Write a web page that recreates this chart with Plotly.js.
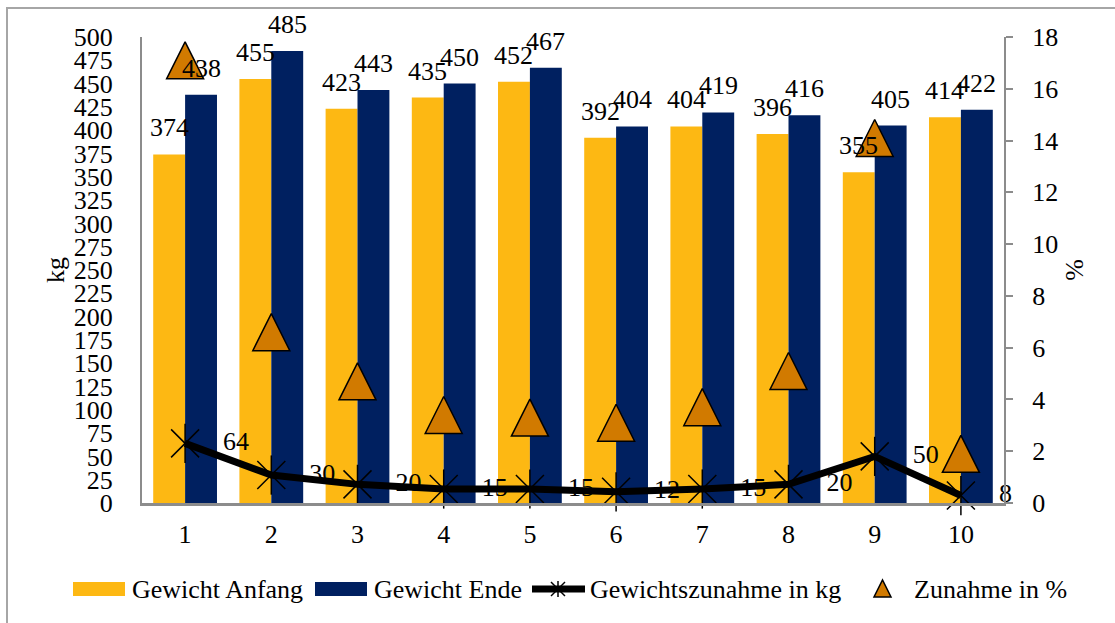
<!DOCTYPE html>
<html>
<head>
<meta charset="utf-8">
<script src="https://cdn.plot.ly/plotly-3.0.1.min.js"></script>
<style>
  html, body { margin: 0; padding: 0; background: #ffffff; }
  #chart { width: 1115px; height: 623px; }
</style>
</head>
<body>
<div id="chart"></div>
<script>
// ---- data ----
const categories = [1, 2, 3, 4, 5, 6, 7, 8, 9, 10];
const gewichtAnfang = [374, 455, 423, 435, 452, 392, 404, 396, 355, 414];
const gewichtEnde = [438, 485, 443, 450, 467, 404, 419, 416, 405, 422];
const zunahmeKg = [64, 30, 20, 15, 15, 12, 15, 20, 50, 8];
const zunahmeProzent = [17.1, 6.6, 4.7, 3.4, 3.3, 3.1, 3.7, 5.1, 14.1, 1.9];
const leftTicks = [0, 25, 50, 75, 100, 125, 150, 175, 200, 225, 250, 275, 300, 325, 350, 375, 400, 425, 450, 475, 500];
const rightTicks = [0, 2, 4, 6, 8, 10, 12, 14, 16, 18];
const seriesNames = ['Gewicht Anfang', 'Gewicht Ende', 'Gewichtszunahme in kg', 'Zunahme in %'];

// ---- styles ----
const FONT = '"Liberation Serif", "Times New Roman", serif';
const FS = 26;
const ORANGE = '#FDB813';
const NAVY = '#002060';
const TRI = '#D17A00';
const GRAY = '#8C8C8C';
const BARGAP = 0.26;
const HALF = (1 - BARGAP) / 4; // offset of each bar centre from category centre

// plot area in pixels (for legend/frame placement in paper coords)
const PL = 142, PR = 1004, PT = 37, PB = 503;
const px = v => (v - PL) / (PR - PL);
const py = v => (PB - v) / (PB - PT);

const traces = [
  {
    type: 'bar', name: seriesNames[0], x: categories, y: gewichtAnfang,
    marker: { color: ORANGE }, hoverinfo: 'y'
  },
  {
    type: 'bar', name: seriesNames[1], x: categories, y: gewichtEnde,
    marker: { color: NAVY }, hoverinfo: 'y'
  },
  {
    type: 'scatter', mode: 'lines+markers+text', name: seriesNames[2],
    x: categories, y: zunahmeKg,
    text: zunahmeKg.map(v => '\u00a0\u00a0\u00a0' + v),
    textposition: 'middle right',
    textfont: { family: FONT, size: FS, color: '#000' },
    line: { color: '#000', width: 7 },
    marker: { symbol: 'x-thin-open', size: 28, color: '#000', line: { color: '#000', width: 1.5 } },
    cliponaxis: false
  },
  {
    type: 'scatter', mode: 'markers', showlegend: false, hoverinfo: 'skip',
    x: categories, y: zunahmeKg,
    marker: { symbol: 'line-ns-open', size: 28, color: '#000', line: { color: '#000', width: 1.5 } },
    cliponaxis: false
  },
  {
    type: 'scatter', mode: 'markers', name: seriesNames[3],
    x: categories, y: zunahmeProzent, yaxis: 'y2',
    marker: { symbol: 'arrow-down', angle: 180, standoff: 18.5, size: 37, color: TRI,
              line: { color: '#000', width: 1.5 } },
    cliponaxis: false
  }
];

const annotations = [];
categories.forEach((c, i) => {
  annotations.push({ x: c - HALF, y: gewichtAnfang[i], xref: 'x', yref: 'y', text: String(gewichtAnfang[i]),
    showarrow: false, yanchor: 'bottom', yshift: 10, font: { family: FONT, size: FS, color: '#000' } });
  annotations.push({ x: c + HALF, y: gewichtEnde[i], xref: 'x', yref: 'y', text: String(gewichtEnde[i]),
    showarrow: false, yanchor: 'bottom', yshift: 10, font: { family: FONT, size: FS, color: '#000' } });
});

// ---- custom legend (Excel style) ----
const LY = 589;
const legendTextX = [130, 372, 588, 912];
legendTextX.forEach((xp, i) => {
  annotations.push({ x: px(xp), y: py(LY), xref: 'paper', yref: 'paper', xanchor: 'left', yanchor: 'middle',
    text: seriesNames[i], showarrow: false, font: { family: FONT, size: FS, color: '#000' } });
});

const shapes = [
  // outer frame
  { type: 'rect', xref: 'paper', yref: 'paper', x0: px(7), x1: px(1125), y0: py(630), y1: py(8),
    line: { color: '#A6A6A6', width: 2 }, fillcolor: 'rgba(0,0,0,0)', layer: 'below' },
  // legend swatches
  { type: 'rect', xref: 'paper', yref: 'paper', x0: px(73), x1: px(125), y0: py(596), y1: py(582),
    line: { width: 0 }, fillcolor: ORANGE },
  { type: 'rect', xref: 'paper', yref: 'paper', x0: px(315), x1: px(367), y0: py(596), y1: py(582),
    line: { width: 0 }, fillcolor: NAVY },
  { type: 'line', xref: 'paper', yref: 'paper', x0: px(532), x1: px(585), y0: py(LY), y1: py(LY),
    line: { color: '#000', width: 7 } },
  { type: 'line', xref: 'paper', yref: 'paper', x0: px(551), x1: px(565), y0: py(LY - 7), y1: py(LY + 7),
    line: { color: '#000', width: 1.5 } },
  { type: 'line', xref: 'paper', yref: 'paper', x0: px(551), x1: px(565), y0: py(LY + 7), y1: py(LY - 7),
    line: { color: '#000', width: 1.5 } },
  { type: 'line', xref: 'paper', yref: 'paper', x0: px(558), x1: px(558), y0: py(LY - 8), y1: py(LY + 8),
    line: { color: '#000', width: 1.5 } },
  { type: 'path', xref: 'paper', yref: 'paper',
    path: `M ${px(874)} ${py(597)} L ${px(891)} ${py(597)} L ${px(882.5)} ${py(580)} Z`,
    line: { color: '#000', width: 1.5 }, fillcolor: TRI }
];

const layout = {
  width: 1115, height: 623,
  margin: { l: 142, r: 111, t: 37, b: 120 },
  paper_bgcolor: '#ffffff', plot_bgcolor: '#ffffff',
  font: { family: FONT, size: FS, color: '#000' },
  barmode: 'group', bargap: BARGAP, bargroupgap: 0,
  showlegend: false,
  xaxis: {
    range: [0.5, 10.5], tickvals: categories, ticktext: categories.map(String),
    showline: true, linecolor: GRAY, linewidth: 3, ticks: '', ticklabelstandoff: 6,
    showgrid: false, zeroline: false, fixedrange: true,
    tickfont: { family: FONT, size: FS, color: '#000' }
  },
  yaxis: {
    range: [0, 500], tickvals: leftTicks, showline: true, linecolor: GRAY, linewidth: 2,
    ticks: '', ticklabelstandoff: 22, showgrid: false, zeroline: false,
    tickfont: { family: FONT, size: FS, color: '#000' },
    title: { text: 'kg', font: { family: FONT, size: FS, color: '#000' }, standoff: 2 }
  },
  yaxis2: {
    range: [0, 18], tickvals: rightTicks, overlaying: 'y', side: 'right', anchor: 'x',
    showline: true, linecolor: GRAY, linewidth: 2, ticks: 'outside', ticklen: 7,
    tickcolor: GRAY, tickwidth: 2, ticklabelstandoff: 14, showgrid: false, zeroline: false,
    tickfont: { family: FONT, size: FS, color: '#000' },
    title: { text: '%', font: { family: FONT, size: FS, color: '#000' }, standoff: 8 }
  },
  annotations: annotations,
  shapes: shapes
};

Plotly.newPlot('chart', traces, layout, { displayModeBar: false, staticPlot: true });
</script>
</body>
</html>
